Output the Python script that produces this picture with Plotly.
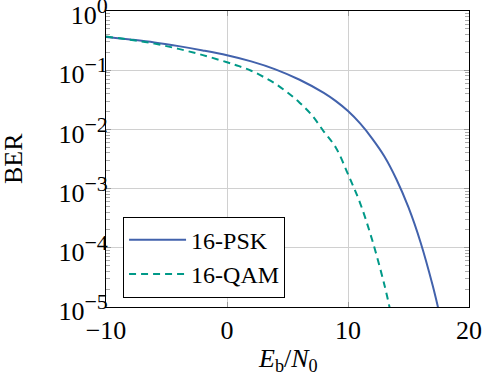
import plotly.graph_objects as go

psk_ebn0 = [-10, -8, -6, -4, -2, 0, 2, 4, 6, 8, 9, 10, 11, 12, 13, 14, 15, 16, 17, 17.5]
psk_ber = [0.365, 0.33, 0.295, 0.255, 0.216, 0.179, 0.141, 0.1035, 0.069, 0.0414, 0.030,
           0.0204, 0.0126, 0.0070, 0.00352, 0.00144, 0.00048, 0.000123, 0.000023, 0.0000087]

qam_ebn0 = [-10, -8, -6, -4, -2, 0, 1, 2, 3, 4, 5, 6, 7, 8, 9, 10, 11, 12, 13, 13.5]
qam_ber = [0.37, 0.327, 0.281, 0.229, 0.180, 0.136, 0.117, 0.098, 0.0774, 0.059, 0.042,
           0.0283, 0.0175, 0.0092, 0.0049, 0.00175, 0.00057, 0.000135, 0.000024, 0.0000086]

series_names = ['16-PSK', '16-QAM']

# Achsenbeschriftungen
y_tickvals = [1e-5, 1e-4, 1e-3, 1e-2, 1e-1, 1]
y_exponents = ['−5', '−4', '−3', '−2', '−1', '0']
y_ticktext = ['10<sup><span style="font-size:22px">%s</span></sup>' % e for e in y_exponents]
x_tickvals = [-10, 0, 10, 20]

FONT = 'Liberation Serif'

# Nebenstriche 2..9 pro Dekade
minor_vals = [m * 10.0 ** e for e in range(-5, 0) for m in range(2, 10)]

fig = go.Figure()

fig.add_trace(go.Scatter(
    x=psk_ebn0, y=psk_ber, mode='lines', name=series_names[0],
    line=dict(color='#4262ac', width=2, shape='spline', smoothing=1)
))
fig.add_trace(go.Scatter(
    x=qam_ebn0, y=qam_ber, mode='lines', name=series_names[1],
    line=dict(color='#009988', width=2, dash='7px,5px', shape='spline', smoothing=1)
))

fig.update_layout(
    width=484,
    height=384,
    margin=dict(l=106, r=15, t=11, b=77),
    plot_bgcolor='white',
    paper_bgcolor='white',
    font=dict(family=FONT, size=26, color='black'),
    legend=dict(
        x=0.047, y=0.305, xanchor='left', yanchor='top',
        bgcolor='white', bordercolor='black', borderwidth=1,
        font=dict(family=FONT, size=24),
        itemwidth=57,
        tracegroupgap=0,
    ),
    # Achsentitel als Annotationen für genaue Platzierung
    annotations=[
        dict(text='BER', xref='paper', yref='paper', x=-0.256, y=0.5,
             textangle=-90, showarrow=False, xanchor='center', yanchor='middle',
             font=dict(family=FONT, size=26)),
        dict(text='<i>E</i><sub>b</sub>/<i>N</i><sub>0</sub>', xref='paper', yref='paper',
             x=0.5, y=-0.118, showarrow=False, xanchor='center', yanchor='top',
             font=dict(family=FONT, size=26)),
    ],
)

fig.update_xaxes(
    range=[-10, 20],
    tickmode='array',
    tickvals=x_tickvals,
    ticklabeloverflow='allow',
    automargin=False,
    showgrid=True, gridcolor='#d0d0d0', gridwidth=1,
    zeroline=False,
    showline=True, linecolor='black', linewidth=1, mirror='allticks',
    ticks='inside', ticklen=5, tickcolor='#999999',
)

fig.update_yaxes(
    type='log',
    range=[-5, 0],
    tickmode='array',
    tickvals=y_tickvals,
    ticktext=y_ticktext,
    ticklabeloverflow='allow',
    ticklabelstandoff=-8,
    ticklabelshift=4,
    automargin=False,
    showgrid=True, gridcolor='#d0d0d0', gridwidth=1,
    zeroline=False,
    showline=True, linecolor='black', linewidth=1, mirror='allticks',
    ticks='inside', ticklen=5, tickcolor='#999999',
    minor=dict(tickmode='array', tickvals=minor_vals, ticks='inside',
               ticklen=4, tickcolor='#aaaaaa', showgrid=False),
)

# Seitenrand des Browsers entfernen, damit die Grafik bei (0, 0) beginnt
fig.write_html('out.html', config={'displayModeBar': False},
               post_script="document.body.style.margin='0';")
